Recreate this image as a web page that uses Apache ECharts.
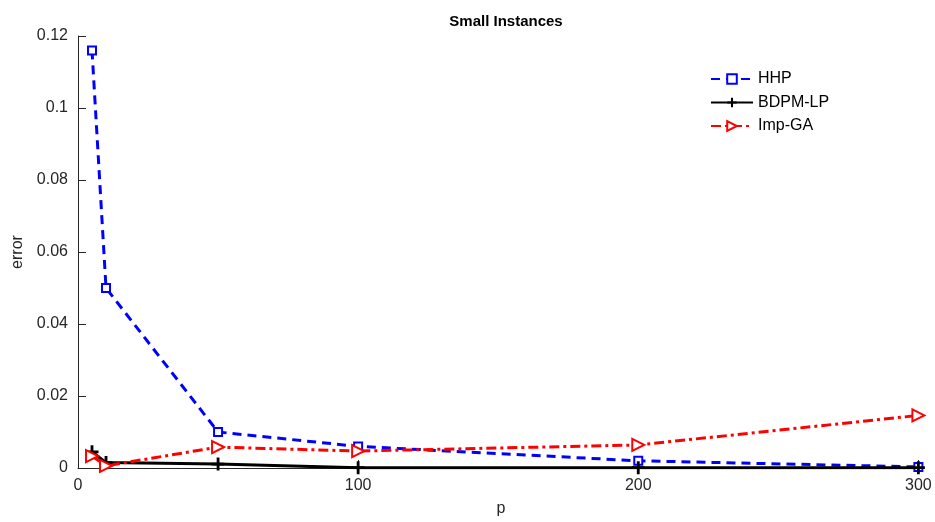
<!DOCTYPE html>
<html>
<head>
<meta charset="utf-8">
<script src="https://cdn.jsdelivr.net/npm/echarts@6/dist/echarts.min.js"></script>
<style>
  html, body { margin: 0; padding: 0; background: #fff; }
  #main { width: 935px; height: 522px; }
</style>
</head>
<body>
<div id="main"></div>
<script>
var pValues = [5, 10, 50, 100, 200, 300];
var hhp = [0.116, 0.050, 0.0100, 0.0060, 0.0020, 0.0003];
var bdpm = [0.0045, 0.0015, 0.0011, 0.0001, 0.0001, 0.0001];
var impGA = [0.0033, 0.0006, 0.0058, 0.0047, 0.0064, 0.0146];

function pairs(ys) {
    return pValues.map(function (x, i) { return [x, ys[i]]; });
}

var plusPath = 'path://M-1.3,-6 L1.3,-6 L1.3,-1.3 L6,-1.3 L6,1.3 L1.3,1.3 L1.3,6 L-1.3,6 L-1.3,1.3 L-6,1.3 L-6,-1.3 L-1.3,-1.3 Z';
var fontName = '"Liberation Sans", Arial, sans-serif';

var myChart = echarts.init(document.getElementById('main'));
var option = {
    animation: false,
    backgroundColor: '#ffffff',
    title: {
        text: 'Small Instances',
        left: 501,
        textAlign: 'center',
        top: 9,
        textStyle: { fontFamily: fontName, fontSize: 15, fontWeight: 'bold', color: '#000' }
    },
    legend: {
        orient: 'vertical',
        left: 705,
        top: 66,
        itemWidth: 42,
        itemHeight: 12,
        itemGap: 7.5,
        textStyle: { fontFamily: fontName, fontSize: 16, lineHeight: 16, color: '#000' },
        data: ['HHP', 'BDPM-LP', 'Imp-GA']
    },
    grid: { left: 78, right: 11, top: 36, bottom: 51 },
    xAxis: {
        type: 'value',
        min: 0,
        max: 302,
        interval: 100,
        name: 'p',
        nameLocation: 'middle',
        nameGap: 33,
        nameTextStyle: { fontFamily: fontName, fontSize: 16, color: '#262626' },
        axisLine: { lineStyle: { color: '#262626', width: 1 } },
        axisTick: { inside: true, length: 8, lineStyle: { color: '#262626' } },
        axisLabel: { fontFamily: fontName, fontSize: 16, color: '#262626', margin: 10, showMaxLabel: false },
        splitLine: { show: false }
    },
    yAxis: {
        type: 'value',
        min: 0,
        max: 0.12,
        interval: 0.02,
        name: 'error',
        nameLocation: 'middle',
        nameGap: 52,
        nameTextStyle: { fontFamily: fontName, fontSize: 16, color: '#262626' },
        axisLine: { show: true, lineStyle: { color: '#262626', width: 1 } },
        axisTick: { show: true, inside: true, length: 8, lineStyle: { color: '#262626' } },
        axisLabel: {
            fontFamily: fontName, fontSize: 16, color: '#262626', margin: 10,
            formatter: function (v) { return String(+v.toFixed(2)); }
        },
        splitLine: { show: false }
    },
    series: [
        {
            name: 'HHP',
            type: 'line',
            data: pairs(hhp),
            symbol: 'emptyRect',
            symbolSize: 8,
            itemStyle: { color: '#0000ff', borderWidth: 2.5 },
            lineStyle: { color: '#0000ff', width: 3, type: [9, 6] }
        },
        {
            name: 'BDPM-LP',
            type: 'line',
            data: pairs(bdpm),
            symbol: plusPath,
            symbolSize: 13,
            itemStyle: { color: '#000000' },
            lineStyle: { color: '#000000', width: 3, type: 'solid' }
        },
        {
            name: 'Imp-GA',
            type: 'line',
            data: pairs(impGA),
            symbol: 'emptyTriangle',
            symbolRotate: -90,
            symbolSize: 12,
            itemStyle: { color: '#ff0000', borderWidth: 2.5 },
            lineStyle: { color: '#ff0000', width: 3, type: [10, 4, 3, 4] }
        }
    ]
};
myChart.setOption(option);
window.addEventListener('resize', function () { myChart.resize(); });
</script>
</body>
</html>
